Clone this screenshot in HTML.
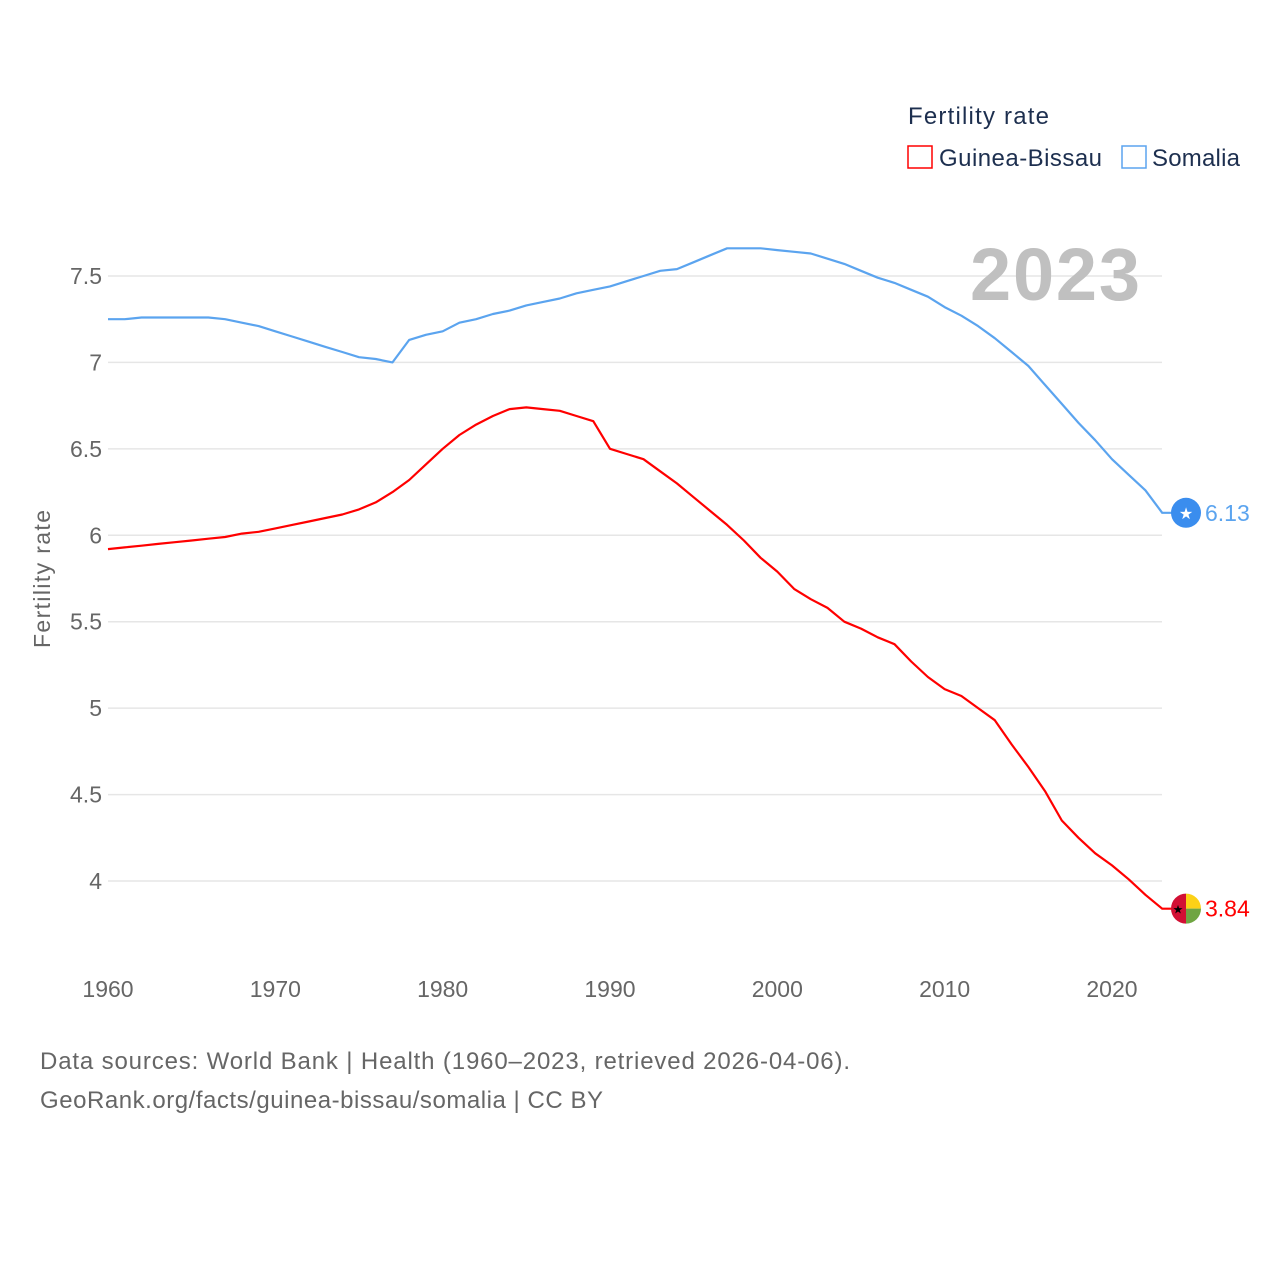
<!DOCTYPE html>
<html><head><meta charset="utf-8"><style>
body{margin:0;background:#fff;font-family:"Liberation Sans",sans-serif}
svg text{font-family:"Liberation Sans",sans-serif}
</style></head><body>
<svg id="chart" width="1280" height="1280" viewBox="0 0 1280 1280" xmlns="http://www.w3.org/2000/svg">
<rect width="1280" height="1280" fill="#fff"/>
<g id="grid"></g>
<text x="1140" y="300" text-anchor="end" font-size="74" font-weight="bold" fill="#c0c0c0" textLength="170">2023</text>
<g id="yticks"></g><g id="xticks"></g>
<text transform="translate(50,579) rotate(-90)" text-anchor="middle" font-size="23" fill="#666" textLength="138">Fertility rate</text>
<g id="lines"></g>
<g>
<text x="908" y="124" font-size="24" fill="#1d2f4f" textLength="141">Fertility rate</text>
<g><rect x="908" y="146" width="24" height="22" fill="none" stroke="#f00" stroke-width="1.5"/><text x="939" y="166" font-size="24" fill="#1d2f4f" textLength="163">Guinea-Bissau</text></g>
<g><rect x="1122" y="146" width="24" height="22" fill="none" stroke="#5ba4ef" stroke-width="1.5"/><text x="1152" y="166" font-size="24" fill="#1d2f4f" textLength="88">Somalia</text></g>
</g>
<text x="40" y="1069" font-size="24" fill="#666" textLength="810">Data sources: World Bank | Health (1960–2023, retrieved 2026-04-06).</text>
<text x="40" y="1108" font-size="24" fill="#666" textLength="563">GeoRank.org/facts/guinea-bissau/somalia | CC BY</text>
</svg>
<script>
const years=[];for(let y=1960;y<=2023;y++)years.push(y);
const somalia=[7.25,7.25,7.26,7.26,7.26,7.26,7.26,7.25,7.23,7.21,7.18,7.15,7.12,7.09,7.06,7.03,7.02,7.00,7.13,7.16,7.18,7.23,7.25,7.28,7.30,7.33,7.35,7.37,7.40,7.42,7.44,7.47,7.50,7.53,7.54,7.58,7.62,7.66,7.66,7.66,7.65,7.64,7.63,7.60,7.57,7.53,7.49,7.46,7.42,7.38,7.32,7.27,7.21,7.14,7.06,6.98,6.87,6.76,6.65,6.55,6.44,6.35,6.26,6.13];
const guinea=[5.92,5.93,5.94,5.95,5.96,5.97,5.98,5.99,6.01,6.02,6.04,6.06,6.08,6.10,6.12,6.15,6.19,6.25,6.32,6.41,6.50,6.58,6.64,6.69,6.73,6.74,6.73,6.72,6.69,6.66,6.50,6.47,6.44,6.37,6.30,6.22,6.14,6.06,5.97,5.87,5.79,5.69,5.63,5.58,5.50,5.46,5.41,5.37,5.27,5.18,5.11,5.07,5.00,4.93,4.79,4.66,4.52,4.35,4.25,4.16,4.09,4.01,3.92,3.84];
const yTicks=[4,4.5,5,5.5,6,6.5,7,7.5];
const xTicks=[1960,1970,1980,1990,2000,2010,2020];
const NS="http://www.w3.org/2000/svg";
const X=y=>108+(y-1960)*16.733;
const Y=v=>881-(v-4)*172.86;
function mk(tag,attrs,parent,txt){const e=document.createElementNS(NS,tag);for(const k in attrs)e.setAttribute(k,attrs[k]);if(txt!==undefined)e.textContent=txt;parent.appendChild(e);return e;}
const grid=document.getElementById('grid'),yt=document.getElementById('yticks'),xt=document.getElementById('xticks'),lines=document.getElementById('lines');
yTicks.forEach(v=>{
 const l=mk('line',{x1:108,x2:1162,y1:Y(v),y2:Y(v),stroke:'#e6e6e6','stroke-width':1.5},grid);
 
 
 const t=mk('text',{x:102,y:Y(v)+8,'text-anchor':'end','font-size':23,fill:'#666'},yt,String(v));
 
 
});
xTicks.forEach(v=>{
 const t=mk('text',{x:X(v),y:997,'text-anchor':'middle','font-size':23,fill:'#666'},xt,String(v));
 
 
});
function series(vals,color,name){
 let d=vals.map((v,i)=>(i?'L':'M')+X(years[i]).toFixed(1)+','+Y(v).toFixed(1)).join(' ');
 const last=vals[vals.length-1];
 d+=' L1186,'+Y(last).toFixed(1);
 const p=mk('path',{d:d,fill:'none',stroke:color,'stroke-width':2.2,'stroke-linejoin':'round'},lines);
 
 
 const lab=mk('text',{x:1205,y:Y(last)+8,'font-size':23,fill:color},lines,last.toFixed(2));
 
 
 return Y(last);
}
const ys=series(somalia,'#5ba4ef','somalia');
const yg=series(guinea,'#f00','guinea-bissau');
const m1=mk('g',{},lines);


mk('circle',{cx:1186,cy:ys,r:15,fill:'#3a8dee'},m1);
mk('text',{x:1186,y:ys+6,'text-anchor':'middle','font-size':16,fill:'#fff'},m1,'★');
const m2=mk('g',{},lines);


mk('path',{d:`M1186,${yg-15} A15,15 0 0,0 1186,${yg+15} Z`,fill:'#d21034'},m2);
mk('path',{d:`M1186,${yg-15} A15,15 0 0,1 1201,${yg} L1186,${yg} Z`,fill:'#fcd116'},m2);
mk('path',{d:`M1186,${yg} L1201,${yg} A15,15 0 0,1 1186,${yg+15} Z`,fill:'#6fa542'},m2);
mk('text',{x:1178,y:yg+5,'text-anchor':'middle','font-size':12,fill:'#000'},m2,'★');
</script>
</body></html>
